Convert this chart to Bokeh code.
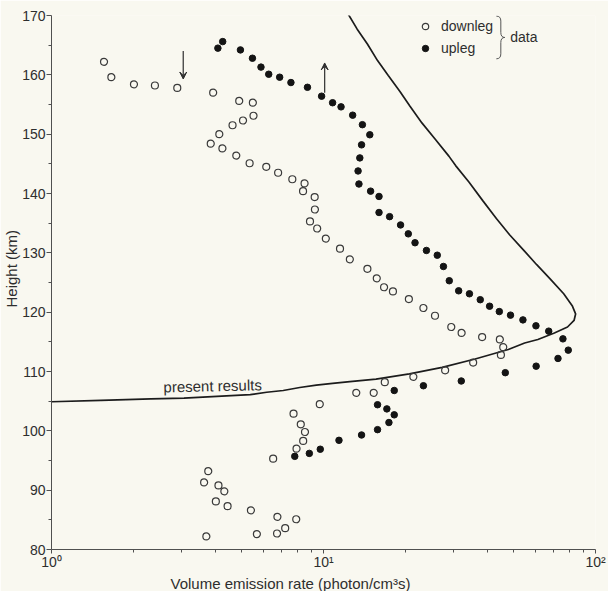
from bokeh.plotting import figure
from bokeh.models import (FixedTicker, Label, Legend, LegendItem, Arrow,
                          VeeHead, Range1d, Title)
from bokeh.embed import file_html
from bokeh.resources import INLINE

# ---------------- data ----------------
downleg_rate = [1.56, 1.66, 2.01, 2.40, 2.90, 3.93, 4.90, 5.50, 5.53, 5.06,
                4.63, 4.14, 3.85, 4.25, 4.78, 5.35, 6.16, 6.81, 7.68, 8.52,
                8.41, 9.28, 9.30, 8.92, 9.48, 10.2, 11.5, 12.5, 14.5, 15.7,
                16.7, 18.0, 20.6, 23.3, 25.7, 29.5, 32.2, 38.3, 44.5, 45.8,
                44.9, 35.5, 28.0, 21.4, 16.8, 15.3, 13.2, 9.69, 7.76, 8.25,
                8.55, 8.42, 7.96, 6.53, 3.77, 3.64, 4.11, 4.32, 4.02, 4.44,
                5.41, 6.77, 7.94, 7.23, 6.75, 5.69, 3.71]
downleg_height = [162.2, 159.6, 158.4, 158.2, 157.8, 157.0, 155.6, 155.3, 153.1, 152.3,
                  151.5, 150.0, 148.4, 147.6, 146.4, 145.1, 144.5, 143.5, 142.4, 141.7,
                  140.4, 139.4, 137.3, 135.3, 134.1, 132.4, 130.7, 128.9, 127.3, 125.7,
                  124.2, 123.5, 122.2, 120.7, 119.4, 117.5, 116.5, 115.8, 115.4, 114.1,
                  112.8, 111.5, 110.2, 109.1, 108.2, 106.4, 106.4, 104.5, 102.9, 101.1,
                  99.8, 98.3, 97.0, 95.3, 93.2, 91.3, 90.8, 89.8, 88.1, 87.3,
                  86.6, 85.5, 85.1, 83.6, 82.7, 82.6, 82.2]

upleg_rate = [4.09, 4.26, 4.95, 5.48, 5.89, 6.29, 6.90, 7.59, 8.73, 9.84,
              10.8, 11.6, 12.8, 13.9, 14.8, 13.8, 13.6, 13.4, 13.5, 14.9,
              16.0, 16.0, 17.5, 19.2, 20.5, 21.7, 23.9, 26.2, 27.6, 29.0,
              31.4, 34.4, 37.7, 40.8, 44.3, 48.7, 54.1, 60.4, 67.3, 75.9,
              79.4, 72.8, 60.5, 46.6, 32.1, 23.3, 18.2, 15.8, 17.1, 18.2,
              17.4, 15.8, 13.8, 11.4, 9.73, 8.87, 7.84]
upleg_height = [164.5, 165.6, 164.2, 162.8, 161.3, 160.1, 159.6, 158.7, 157.9, 156.4,
                155.3, 154.6, 153.2, 151.6, 149.9, 148.2, 146.0, 143.8, 141.6, 140.4,
                139.5, 136.8, 136.1, 134.7, 133.2, 131.7, 130.4, 129.6, 127.7, 125.3,
                123.6, 123.1, 122.1, 121.0, 120.1, 119.5, 118.7, 117.7, 116.8, 115.5,
                113.6, 112.2, 110.9, 109.8, 108.4, 107.6, 106.8, 104.4, 103.7, 102.7,
                101.4, 100.2, 99.3, 98.4, 96.9, 96.2, 95.7]

model_rate = [12.3, 13.3, 14.5, 15.8, 17.3, 19.1, 20.8, 23.0, 25.8, 28.9,
              30.6, 34.3, 38.5, 43.2, 48.4, 54.3, 60.8, 68.1, 76.4, 82.1,
              84.5, 83.4, 78.9, 70.6, 61.4, 54.9, 47.8, 36.1, 27.3, 20.7,
              15.6, 12.5, 10.8, 9.41, 8.18, 7.11, 6.18, 5.38, 4.06, 3.07,
              2.32, 1.52, 1.0]
model_height = [170.3, 167.7, 165.2, 162.4, 159.9, 157.2, 154.7, 151.9, 149.1, 146.3,
                144.7, 141.9, 138.8, 135.8, 133.0, 130.5, 128.0, 125.6, 123.1, 121.1,
                119.7, 118.6, 117.5, 116.5, 115.4, 114.8, 113.7, 112.1, 110.7, 109.6,
                108.7, 108.3, 108.0, 107.7, 107.3, 106.8, 106.5, 106.1, 105.8, 105.5,
                105.4, 105.15, 104.9]

x_ticks = [1, 10, 100]
x_tick_labels = ["10\u2070", "10\u00b9", "10\u00b2"]
x_minor_ticks = [2, 3, 4, 5, 6, 7, 8, 9, 20, 30, 40, 50, 60, 70, 80, 90]
y_ticks = [80, 90, 100, 110, 120, 130, 140, 150, 160, 170]
y_minor_ticks = [85, 95, 105, 115, 125, 135, 145, 155, 165]

series_labels = ["downleg", "upleg"]
curve_label = "present results"
group_label = "data"
x_title = "Volume emission rate  (photon/cm\u00b3s)"
y_title = "Height (km)"

# ---------------- styling ----------------
BG = "#f9f8f0"
INK = "#2e2e2e"
AXIS = "#505050"
FONT = "Liberation Sans"
FS = "14px"
FS_T = "15px"

p = figure(width=608, height=591, x_axis_type="log",
           x_range=Range1d(1, 100), y_range=Range1d(80, 170),
           output_backend="svg", toolbar_location=None,
           min_border_left=48, min_border_right=13,
           min_border_top=15, min_border_bottom=41,
           background_fill_color=BG, border_fill_color=BG,
           outline_line_color=None)
p.xgrid.visible = False
p.ygrid.visible = False

xa = p.xaxis[0]
ya = p.yaxis[0]
xa.ticker = FixedTicker(ticks=x_ticks, minor_ticks=x_minor_ticks)
xa.major_label_overrides = {t: l for t, l in zip(x_ticks, x_tick_labels)}
ya.ticker = FixedTicker(ticks=y_ticks, minor_ticks=y_minor_ticks)
for ax in (xa, ya):
    ax.axis_line_color = AXIS
    ax.axis_line_width = 1
    ax.major_tick_line_color = AXIS
    ax.minor_tick_line_color = AXIS
    ax.major_tick_in = 0
    ax.minor_tick_in = 0
    ax.major_label_text_font = FONT
    ax.major_label_text_font_size = FS
    ax.major_label_text_color = INK
xa.major_tick_out = 4
xa.minor_tick_out = 3
xa.major_label_standoff = 0
ya.major_tick_out = 5
ya.minor_tick_out = 3
ya.major_label_standoff = 1

# axis titles as side titles (placed in the border panels)
p.add_layout(Title(text=x_title, align="left", offset=119, standoff=0,
                   text_font=FONT, text_font_size=FS_T, text_color=INK,
                   text_font_style="normal"), "below")
p.add_layout(Title(text=y_title, align="left", offset=242, standoff=0,
                   text_font=FONT, text_font_size=FS_T, text_color=INK,
                   text_font_style="normal"), "left")

# ---------------- marks ----------------
p.line(model_rate, model_height, line_color="#1c1c1c", line_width=1.7)
r_down = p.scatter(downleg_rate, downleg_height, marker="circle", size=7,
                   fill_color=None, line_color="#3a3a3a", line_width=1.2)
r_up = p.scatter(upleg_rate, upleg_height, marker="circle", size=6.5,
                 fill_color="#141414", line_color="#141414")

legend = Legend(items=[LegendItem(label=series_labels[0], renderers=[r_down]),
                       LegendItem(label=series_labels[1], renderers=[r_up])],
                location=(366, 491), orientation="vertical",
                background_fill_alpha=0, border_line_color=None,
                padding=0, margin=0, spacing=2,
                glyph_width=16, glyph_height=20, label_height=20,
                label_standoff=8, label_text_font=FONT,
                label_text_font_size=FS, label_text_color=INK)
p.add_layout(legend)

# brace "}" grouping the legend entries, and the word "data"
PX_PER_DECADE = 547 / 2.0
PX_PER_KM = 535 / 90.0
bx0, btop, bbot = 43.2, 169.9, 162.7
bxs = bx0 * 10 ** (4.5 / PX_PER_DECADE)
bxt = bx0 * 10 ** (8.5 / PX_PER_DECADE)
bmid = (btop + bbot) / 2
rr = 5 / PX_PER_KM
p.quadratic(x0=[bx0, bxs, bxt, bxs], y0=[btop, bmid + rr, bmid, bbot + rr],
            x1=[bxs, bxt, bxs, bx0], y1=[btop - rr, bmid, bmid - rr, bbot],
            cx=[bxs, bxs, bxs, bxs], cy=[btop, bmid, bmid, bbot],
            line_color="#555555", line_width=1)
p.segment(x0=[bxs, bxs], y0=[btop - rr, bmid - rr],
          x1=[bxs, bxs], y1=[bmid + rr, bbot + rr],
          line_color="#555555", line_width=1)
p.add_layout(Label(x=48.6, y=bmid, text=group_label, text_font=FONT,
                   text_font_size=FS, text_color=INK,
                   text_baseline="middle", text_align="left"))

# arrows
p.add_layout(Arrow(end=VeeHead(size=7, fill_color=INK, line_color=INK, line_width=1),
                   x_start=3.05, y_start=164.0, x_end=3.05, y_end=159.3,
                   line_color=INK, line_width=1.2))
p.add_layout(Arrow(end=VeeHead(size=7, fill_color=INK, line_color=INK, line_width=1),
                   x_start=10.1, y_start=157.0, x_end=10.1, y_end=162.0,
                   line_color=INK, line_width=1.2))

# curve label
p.add_layout(Label(x=2.58, y=107.4, text=curve_label, text_font=FONT,
                   text_font_size=FS_T, text_color=INK, angle=0.022,
                   text_baseline="alphabetic", text_align="left"))

open("out.html", "w").write(file_html(p, INLINE))
